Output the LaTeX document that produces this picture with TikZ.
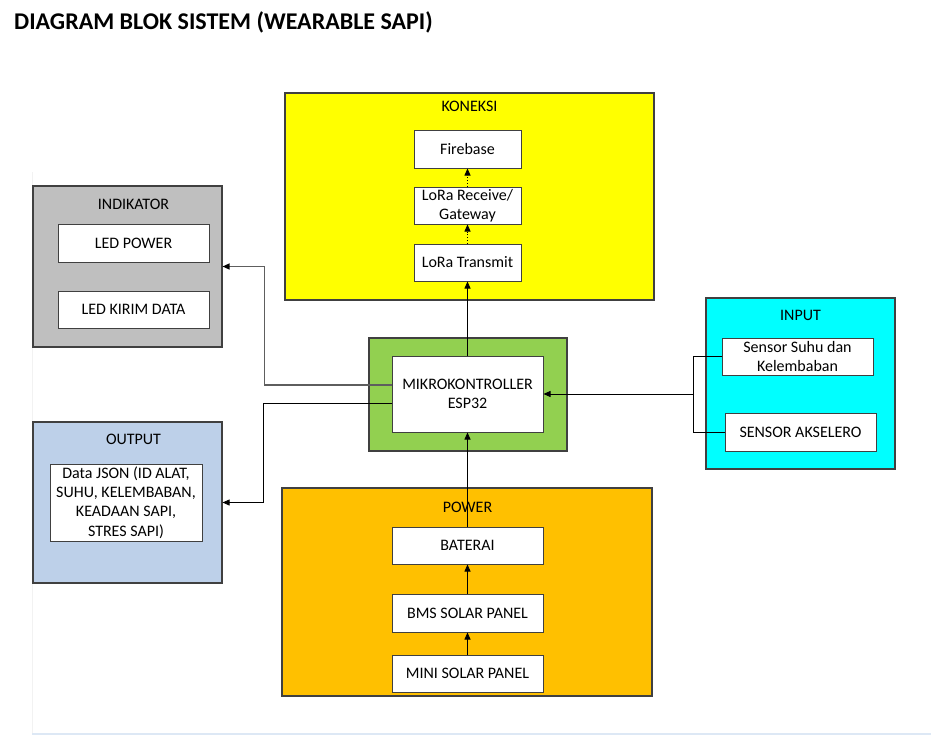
\documentclass[tikz,border=0pt]{standalone}
\usepackage{fontspec}
\setmainfont{Carlito}
\usetikzlibrary{arrows.meta,calc,shadows}
\definecolor{cyel}{HTML}{FFFF00}
\definecolor{cgray}{HTML}{BFBFBF}
\definecolor{cblue}{HTML}{BDD0E9}
\definecolor{cgreen}{HTML}{92D050}
\definecolor{corange}{HTML}{FFC000}
\definecolor{ccyan}{HTML}{00FFFF}
\definecolor{cborder}{HTML}{404040}
\definecolor{cline}{HTML}{5E5E5E}
\definecolor{cpage}{HTML}{DDE8F5}
\begin{document}
\begin{tikzpicture}[x=1pt,y=-1pt,
  group/.style={draw=cborder,line width=1.1pt,inner sep=0pt,
    drop shadow={shadow xshift=1pt,shadow yshift=-1pt,opacity=0.25}},
  item/.style={draw=cborder,line width=1pt,fill=white,inner sep=0pt,align=center,
    font=\fontsize{16}{19}\selectfont,
    drop shadow={shadow xshift=1pt,shadow yshift=-1pt,opacity=0.25}},
  grouptitle/.style={font=\fontsize{16}{19}\selectfont,inner sep=0pt},
  conn/.style={draw=black,line width=0.8pt,-{Triangle[length=7pt,width=6pt,color=black]}},
  dotconn/.style={draw=black,line width=0.8pt,dotted,-{Triangle[length=7pt,width=6pt]}},
  plain/.style={draw=black,line width=0.8pt}
]
\useasboundingbox (0,0) rectangle (931,741);
\fill[white] (0,0) rectangle (931,741);
% faint page edges
\draw[draw=black!5,line width=0.6pt] (32,172) -- (32,733);
\draw[draw=cpage,line width=2pt] (32,734) -- (931,734);

% title
\node[anchor=base west,inner sep=0pt,font=\fontsize{24}{28}\selectfont\bfseries] (title) at (14,30) {DIAGRAM BLOK SISTEM (WEARABLE SAPI)};

% KONEKSI
\node[group,fill=cyel,minimum width=369pt,minimum height=207pt] (koneksi) at (469.5,196.5) {};
\node[grouptitle] (koneksiT) at (469.5,106) {KONEKSI};
\node[item,minimum width=107pt,minimum height=37pt] (firebase) at (467.5,149.5) {Firebase};
\node[item,minimum width=107pt,minimum height=37pt] (lorarx) at (467.5,205.5) {LoRa Receive/\\Gateway};
\node[item,minimum width=107pt,minimum height=37pt] (loratx) at (467.5,262.5) {LoRa Transmit};

% INDIKATOR
\node[group,fill=cgray,minimum width=189pt,minimum height=161pt] (indikator) at (127.5,266.5) {};
\node[grouptitle] (indikatorT) at (133.5,204) {INDIKATOR};
\node[item,minimum width=151pt,minimum height=38pt] (ledpower) at (133.5,243) {LED POWER};
\node[item,minimum width=151pt,minimum height=37pt] (ledkirim) at (133.5,309.5) {LED KIRIM DATA};

% OUTPUT
\node[group,fill=cblue,minimum width=189pt,minimum height=161pt] (output) at (127.5,502.5) {};
\node[grouptitle] (outputT) at (133.5,439) {OUTPUT};
\node[item,minimum width=152pt,minimum height=77pt,font=\fontsize{16}{19.3}\selectfont] (json) at (126,502.5) {Data JSON (ID ALAT,\\SUHU, KELEMBABAN,\\KEADAAN SAPI,\\STRES SAPI)};

% MIKROKONTROLLER
\node[group,fill=cgreen,minimum width=198pt,minimum height=113pt] (mikroouter) at (468,394.5) {};
\node[item,minimum width=151pt,minimum height=76pt] (mikro) at (467.5,394) {MIKROKONTROLLER\\ESP32};

% POWER
\node[group,fill=corange,minimum width=370pt,minimum height=208pt] (power) at (467,592) {};
\node[grouptitle] (powerT) at (467.5,507) {POWER};
\node[item,minimum width=151pt,minimum height=37pt] (baterai) at (467.5,545.5) {BATERAI};
\node[item,minimum width=151pt,minimum height=38pt] (bms) at (467.5,613) {BMS SOLAR PANEL};
\node[item,minimum width=151pt,minimum height=37pt] (mini) at (467.5,673.5) {MINI SOLAR PANEL};

% INPUT
\node[group,fill=ccyan,minimum width=189pt,minimum height=171pt] (input) at (800.5,383.5) {};
\node[grouptitle] (inputT) at (800.5,315) {INPUT};
\node[item,minimum width=151pt,minimum height=37pt] (suhu) at (797.5,356.5) {Sensor Suhu dan\\Kelembaban};
\node[item,minimum width=151pt,minimum height=38pt] (akselero) at (800.5,432) {SENSOR AKSELERO};

% connectors
\draw[conn] (mikro.north) -- (loratx.south);
\draw[dotconn] (loratx.north) -- (lorarx.south);
\draw[dotconn] (lorarx.north) -- (firebase.south);
\draw[conn] (baterai.north) -- (mikro.south);
\draw[conn] (bms.north) -- (baterai.south);
\draw[conn] (mini.north) -- (bms.south);

\coordinate (junc) at (693,394);
\draw[plain] (suhu.west) -| (junc);
\draw[plain] (akselero.west) -| (junc);
\draw[conn] (junc) -- (mikro.east);

\draw[conn,draw=cline,line width=1.2pt] ($(mikro.west)+(0,-9)$) -- ++(-127,0) |- (indikator.east);
\draw[conn] ($(mikro.west)+(0,9)$) -- ++(-128,0) |- (output.east);
\end{tikzpicture}
\end{document}
